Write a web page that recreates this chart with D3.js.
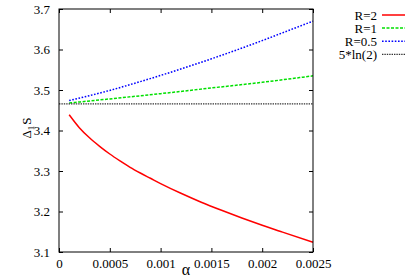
<!DOCTYPE html>
<html><head><meta charset="utf-8">
<script src="https://cdn.jsdelivr.net/npm/d3@7"></script>
<style>html,body{margin:0;padding:0;background:#fff;}svg{display:block;}
svg text{font-family:"Liberation Serif","Times New Roman",Times,"DejaVu Serif",serif;fill:#000;}</style>
</head><body>
<script>
// Data
const alphaR2 = [0.0001,0.0002,0.0003,0.0004,0.0005,0.0006,0.0007,0.0008,0.0009,0.0010,0.0012,0.0014,0.0016,0.0018,0.0020,0.0022,0.0025];
const valR2   = [3.439,3.407,3.382,3.361,3.342,3.325,3.309,3.295,3.282,3.269,3.245,3.223,3.203,3.184,3.166,3.149,3.124];
const alphaR1 = [0.0001,0.0005,0.0010,0.0015,0.0020,0.0025];
const valR1   = [3.468,3.478,3.491,3.505,3.519,3.535];
const alphaR05 = [0.0001,0.00025,0.0005,0.00075,0.0010,0.00125,0.0015,0.00175,0.0020,0.00225,0.0025];
const valR05   = [3.474,3.483,3.499,3.517,3.536,3.556,3.577,3.599,3.622,3.646,3.670];
const alphaLn = [0,0.0025];
const valLn   = [3.4657,3.4657];
const xTicks = [0,0.0005,0.001,0.0015,0.002,0.0025];
const xTickLabels = ["0","0.0005","0.001","0.0015","0.002","0.0025"];
const yTicks = [3.1,3.2,3.3,3.4,3.5,3.6,3.7];
const yTickLabels = ["3.1","3.2","3.3","3.4","3.5","3.6","3.7"];
const legendLabels = ["R=2","R=1","R=0.5","5*ln(2)"];

const W=415,H=277;
const L=59,R=313,T=9,B=252;
const svg=d3.select("body").append("svg").attr("width",W).attr("height",H);
const x=d3.scaleLinear().domain([0,0.0025]).range([L,R]);
const y=d3.scaleLinear().domain([3.1,3.7]).range([B,T]);

const series=[
  {a:alphaR2,v:valR2,color:"#ff0000",dash:null,w:1.5},
  {a:alphaR1,v:valR1,color:"#00e000",dash:"3,1.5",w:1.5},
  {a:alphaR05,v:valR05,color:"#0000ff",dash:"1.6,1.6",w:1.5},
  {a:alphaLn,v:valLn,color:"#333333",dash:"1.4,1",w:1.3}
];
const line=d3.line().x(d=>x(d[0])).y(d=>y(d[1])).curve(d3.curveMonotoneX);
series.forEach(s=>{
  svg.append("path").attr("d",line(s.a.map((a,i)=>[a,s.v[i]])))
    .attr("fill","none").attr("stroke",s.color).attr("stroke-width",s.w)
    .attr("stroke-dasharray",s.dash);
});

const fs=13;
const axB=svg.append("g").attr("transform",`translate(0,${B})`)
  .call(d3.axisBottom(x).tickValues(xTicks).tickFormat((d,i)=>xTickLabels[i]).tickSize(-4).tickPadding(7));
const axT=svg.append("g").attr("transform",`translate(0,${T})`)
  .call(d3.axisTop(x).tickValues(xTicks).tickFormat("").tickSize(-4));
const axL=svg.append("g").attr("transform",`translate(${L},0)`)
  .call(d3.axisLeft(y).tickValues(yTicks).tickFormat((d,i)=>yTickLabels[i]).tickSize(-4).tickPadding(9));
const axR=svg.append("g").attr("transform",`translate(${R},0)`)
  .call(d3.axisRight(y).tickValues(yTicks).tickFormat("").tickSize(-4));
[axB,axT,axL,axR].forEach(g=>{
  g.attr("font-family",null);
  g.select(".domain").remove();
  g.selectAll(".tick line").attr("stroke","#000");
  g.selectAll("text").attr("font-size",fs).attr("fill","#000");
});
axB.selectAll("text").attr("dy","0.71em");
svg.append("rect").attr("x",L).attr("y",T).attr("width",R-L).attr("height",B-T)
  .attr("fill","none").attr("stroke","#000").attr("stroke-width",1);

svg.append("text").attr("x",(L+R)/2).attr("y",275).attr("text-anchor","middle").attr("font-size",16).text("α");
const yl=svg.append("text").attr("transform","translate(31,128) rotate(-90)").attr("text-anchor","middle").attr("font-size",fs);
yl.append("tspan").text("Δ");
yl.append("tspan").attr("font-size",9).attr("dy",3).text("1");
yl.append("tspan").attr("dy",-3).attr("dx",1).text("S");

const lg=svg.append("g");
legendLabels.forEach((lab,i)=>{
  const yy=15+i*13.1;
  lg.append("text").attr("x",377).attr("y",yy+4.5).attr("text-anchor","end").attr("font-size",fs).text(lab);
  lg.append("line").attr("x1",382).attr("x2",405).attr("y1",yy).attr("y2",yy)
    .attr("stroke",series[i].color).attr("stroke-width",series[i].w).attr("stroke-dasharray",series[i].dash);
});
</script>
</body></html>
